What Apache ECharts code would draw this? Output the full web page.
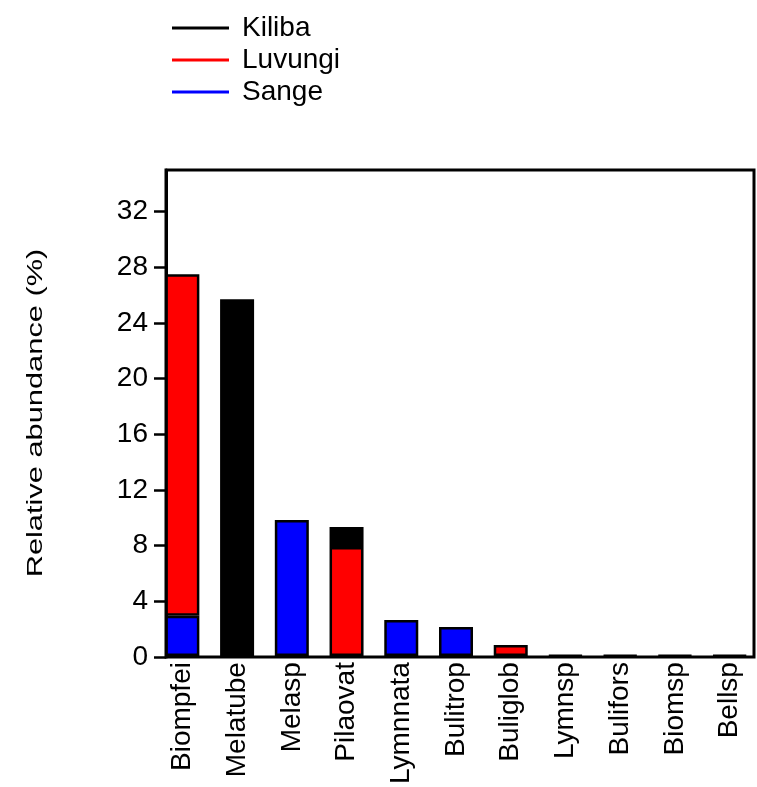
<!DOCTYPE html>
<html>
<head>
<meta charset="utf-8">
<script src="https://cdn.jsdelivr.net/npm/echarts@6/dist/echarts.min.js"></script>
<style>
  html, body { margin: 0; padding: 0; background: #fff; }
  #chart { width: 757px; height: 787px; }
</style>
</head>
<body>
<div id="chart"></div>
<script>
// Taxa on the x axis
const taxa = ['Biompfei', 'Melatube', 'Melasp', 'Pilaovat', 'Lymnnata', 'Bulitrop', 'Buliglob', 'Lymnsp', 'Bulifors', 'Biomsp', 'Bellsp'];

// Relative abundance (%) per site, stacked Sange -> Luvungi -> Kiliba
// (null = taxon not recorded at that site)
const sange   = [2.9,  null, 9.8,  null, 2.6,  2.1,  null, 0.05, 0.05, 0.05, 0.05];
const luvungi = [24.6, null, null, 7.85, null, null, 0.8,  null, null, null, null];
const kiliba  = [null, 25.7, null, 1.45, null, null, null, null, null, null, null];

// Y axis scale
const yMax = 35;
const yStep = 4;

const FONT = 'Liberation Sans, Arial, Helvetica, sans-serif';

const chart = echarts.init(document.getElementById('chart'), null, { renderer: 'canvas' });

const option = {
  backgroundColor: '#fff',
  animation: false,
  legend: {
    data: ['Kiliba', 'Luvungi', 'Sange'],
    orient: 'vertical',
    left: 167,
    top: 9,
    icon: 'rect',
    itemWidth: 57,
    itemHeight: 3,
    itemGap: 4,
    itemStyle: { borderWidth: 0 },
    textStyle: { fontFamily: FONT, fontSize: 28, color: '#000', padding: [0, 0, 0, 8] },
    selectedMode: false
  },
  grid: [
    // frame of the plot
    { left: 166, right: 3, top: 170, bottom: 130, show: true, borderColor: '#000', borderWidth: 3, backgroundColor: 'transparent' },
    // bar layout
    { left: 155, width: 611, top: 170, bottom: 130 }
  ],
  xAxis: [
    { gridIndex: 0, type: 'value', show: false, min: 0, max: 1 },
    {
      gridIndex: 1,
      type: 'category',
      data: taxa,
      axisLine: { show: false },
      axisTick: { show: false },
      axisLabel: { rotate: 90, fontFamily: FONT, fontSize: 28, color: '#000', margin: 6, interval: 0 }
    }
  ],
  yAxis: [
    {
      gridIndex: 0,
      type: 'value',
      min: 0,
      max: yMax,
      interval: yStep,
      axisLine: { show: true, lineStyle: { color: '#000', width: 3 } },
      axisTick: { show: true, length: 12, lineStyle: { color: '#000', width: 2.5 } },
      axisLabel: { fontFamily: FONT, fontSize: 28, color: '#000', margin: 18, showMaxLabel: false },
      splitLine: { show: false }
    },
    { gridIndex: 1, type: 'value', min: 0, max: yMax, show: false }
  ],
  graphic: [
    {
      type: 'text',
      x: 36,
      y: 413,
      rotation: Math.PI / 2,
      scaleX: 1.4,
      style: {
        text: 'Relative abundance (%)',
        font: '22px ' + FONT,
        fill: '#000',
        textAlign: 'center',
        textVerticalAlign: 'middle'
      }
    }
  ],
  series: [
    {
      name: 'Sange', type: 'bar', stack: 'site', xAxisIndex: 1, yAxisIndex: 1,
      barWidth: 34, data: sange,
      itemStyle: { color: '#0000ff', borderColor: '#000', borderWidth: 2.5 }
    },
    {
      name: 'Luvungi', type: 'bar', stack: 'site', xAxisIndex: 1, yAxisIndex: 1,
      barWidth: 34, data: luvungi,
      itemStyle: { color: '#ff0000', borderColor: '#000', borderWidth: 2.5 }
    },
    {
      name: 'Kiliba', type: 'bar', stack: 'site', xAxisIndex: 1, yAxisIndex: 1,
      barWidth: 34, data: kiliba,
      itemStyle: { color: '#000000', borderColor: '#000', borderWidth: 2.5 }
    }
  ]
};

chart.setOption(option);
</script>
</body>
</html>
